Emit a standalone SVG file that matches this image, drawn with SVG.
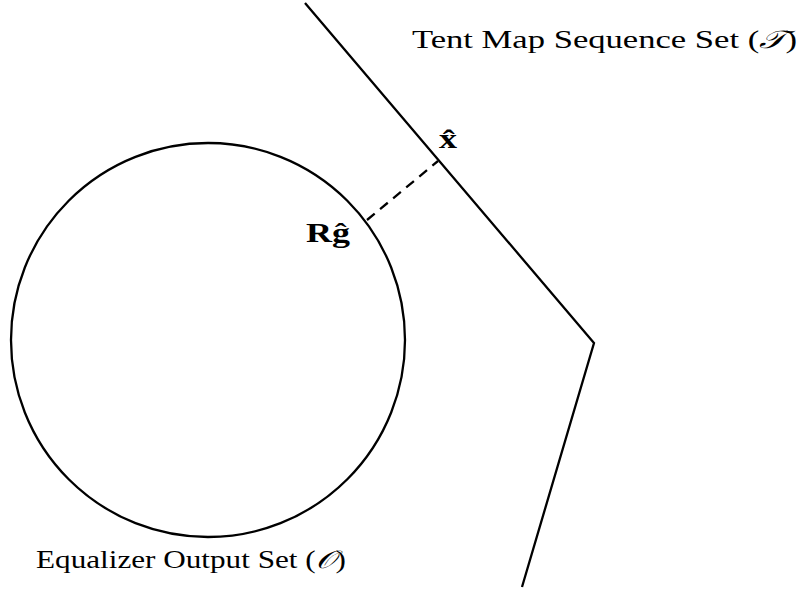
<svg xmlns="http://www.w3.org/2000/svg" width="799" height="590" viewBox="0 0 799 590">
<style>
.ln{fill:none;stroke:#000;stroke-width:2.3;stroke-linecap:butt;stroke-linejoin:miter}
.lbl{font-family:"Liberation Serif","DejaVu Serif",serif;font-size:25px;fill:#000}
.b{font-weight:bold;font-size:27px}
.m{font-family:"DejaVu Serif","Noto Sans",serif;font-style:italic}
</style>
<rect width="799" height="590" fill="#fff"/>
<g id="equalizer-output-set">
<circle class="ln" cx="208" cy="340" r="197"/>
<text class="lbl" x="36" y="568" textLength="310" lengthAdjust="spacingAndGlyphs">Equalizer Output Set (<tspan class="m">𝒪</tspan>)</text>
</g>
<g id="tent-map-sequence-set">
<polyline class="ln" points="305,3 594,343 522,587"/>
<text class="lbl" x="412" y="48" textLength="385" lengthAdjust="spacingAndGlyphs">Tent Map Sequence Set (<tspan class="m">𝒯</tspan>)</text>
</g>
<g id="point-rg">
<text class="lbl b" x="306" y="242" textLength="44" lengthAdjust="spacingAndGlyphs">Rĝ</text>
</g>
<g id="point-xhat">
<text class="lbl b" x="439" y="148" textLength="18" lengthAdjust="spacingAndGlyphs">x̂</text>
</g>
<g id="connectors">
<line class="ln" x1="367" y1="220" x2="438" y2="161" stroke-dasharray="10,7"/>
</g>
</svg>
